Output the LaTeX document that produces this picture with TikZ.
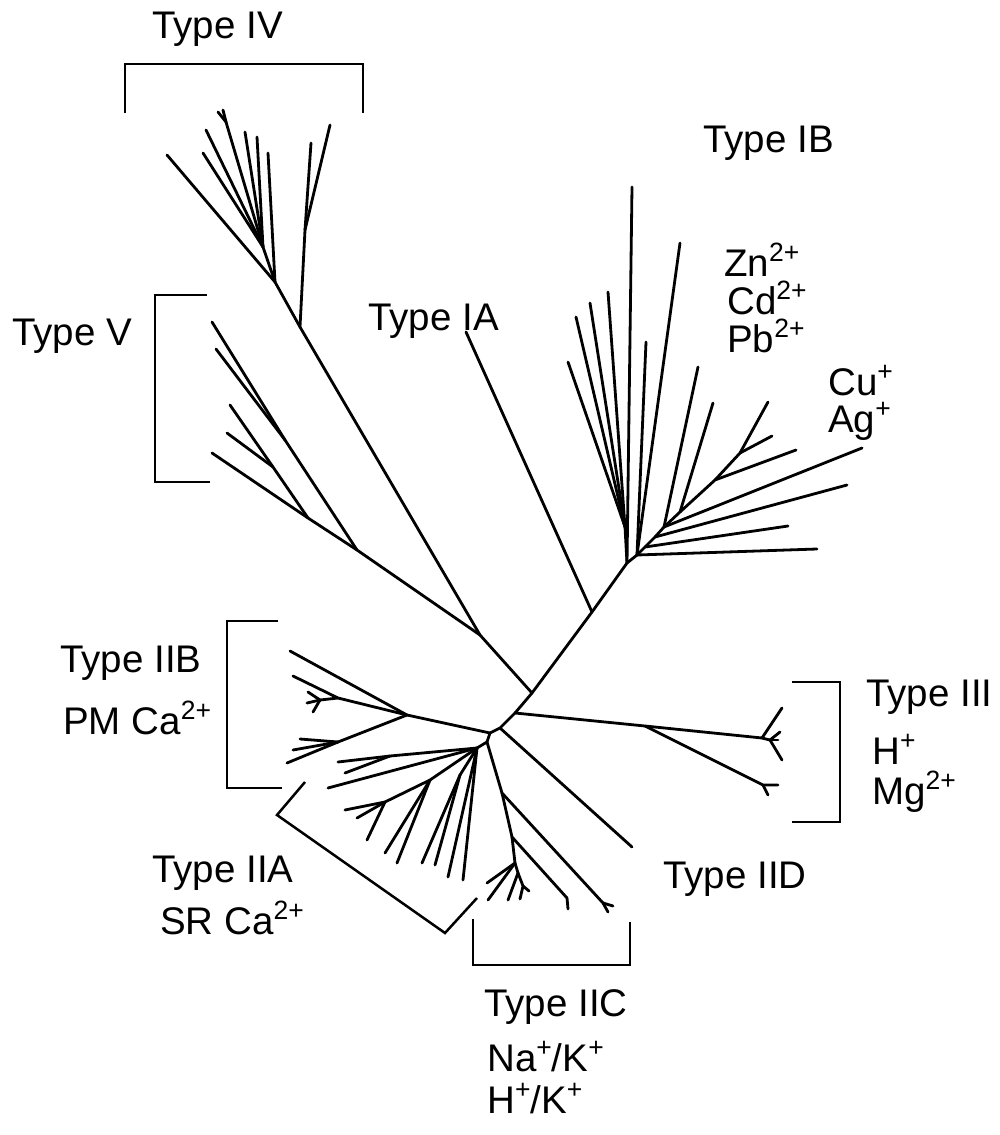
\documentclass[tikz,border=0pt]{standalone}
\usepackage{fontspec}
\setmainfont{Liberation Sans}
\newcommand\sups[1]{\raisebox{14.5pt}{\fontsize{26.5}{26.5}\selectfont #1}}
\begin{document}
\begin{tikzpicture}[x=1pt,y=-1pt,line cap=round,line join=round]
\tikzset{
  ln/.style={line width=2.8pt},
  br/.style={line width=2.5pt,line cap=butt,line join=miter},
  lab/.style={anchor=base west,inner sep=0pt,font=\fontsize{38.5}{44}\selectfont}
}
\useasboundingbox (0,0) rectangle (999,1135);
% ---------- central spine ----------
\coordinate (hIB) at (627,563);
\coordinate (jIA) at (592,612);
\coordinate (jV) at (532,693);
\coordinate (jIII) at (515,713);
\coordinate (jIID) at (500,728);
\coordinate (jIIB) at (490,733);
\coordinate (jAC) at (487,742);
\coordinate (jIVV) at (480,635);
\coordinate (tIA) at (466,332);
\draw[ln] (hIB) -- (jIA) -- (jV) -- (jIII) -- (jIID) -- (jIIB) -- (jAC);
\draw[ln] (jIA) -- (tIA);
\draw[ln] (jV) -- (jIVV);
% ---------- Type IV ----------
\coordinate (C) at (300,327);
\coordinate (A) at (275,282);
\coordinate (C2) at (305,230);
\coordinate (B) at (263,247);
\coordinate (Bf) at (226,122);
\coordinate (iv1) at (167,155);
\coordinate (iv2) at (268,153);
\coordinate (iv3) at (203,153);
\coordinate (iv4) at (206,130);
\coordinate (iv5) at (218,112);
\coordinate (iv6) at (223,110);
\coordinate (iv7) at (245,132);
\coordinate (iv8) at (257,137);
\coordinate (iv9) at (311,143);
\coordinate (iv10) at (330,125);
\draw[ln] (jIVV) -- (C) -- (A) -- (iv1);
\draw[ln] (A) -- (iv2);
\draw[ln] (A) -- (B) -- (iv3);
\draw[ln] (B) -- (iv4);
\draw[ln] (B) -- (Bf) -- (iv5);
\draw[ln] (Bf) -- (iv6);
\draw[ln] (B) -- (iv7);
\draw[ln] (B) -- (iv8);
\draw[ln] (C) -- (C2) -- (iv9);
\draw[ln] (C2) -- (iv10);
% ---------- Type V ----------
\coordinate (D) at (357,550);
\coordinate (E) at (285,440);
\coordinate (F) at (308,518);
\coordinate (G) at (273,467);
\coordinate (v1) at (212,322);
\coordinate (v2) at (216,349);
\coordinate (v3) at (212,453);
\coordinate (v4) at (230,405);
\coordinate (v5) at (227,433);
\draw[ln] (jIVV) -- (D) -- (E) -- (v1);
\draw[ln] (E) -- (v2);
\draw[ln] (D) -- (F) -- (v3);
\draw[ln] (F) -- (G) -- (v4);
\draw[ln] (G) -- (v5);
% ---------- Type IB ----------
\coordinate (J) at (625,527);
\coordinate (K) at (637,555);
\coordinate (P1) at (645,547);
\coordinate (P2) at (655,537);
\coordinate (P3) at (664,527);
\coordinate (P4) at (680,512);
\coordinate (L) at (715,480);
\coordinate (M) at (740,453);
\coordinate (b1) at (632,187);
\coordinate (b2) at (680,243);
\coordinate (b3) at (608,292);
\coordinate (b4) at (590,303);
\coordinate (b5) at (576,317);
\coordinate (b6) at (568,362);
\coordinate (b7) at (646,342);
\coordinate (b8) at (698,367);
\coordinate (b9) at (713,403);
\coordinate (b10) at (768,402);
\coordinate (b11) at (772,436);
\coordinate (b12) at (796,450);
\coordinate (b13) at (862,448);
\coordinate (b14) at (847,485);
\coordinate (b15) at (788,526);
\coordinate (b16) at (817,549);
\draw[ln] (hIB) -- (b1);
\draw[ln] (hIB) -- (J) -- (b3);
\draw[ln] (J) -- (b4);
\draw[ln] (J) -- (b5);
\draw[ln] (J) -- (b6);
\draw[ln] (hIB) -- (K) -- (b2);
\draw[ln] (K) -- (b7);
\draw[ln] (K) -- (b16);
\draw[ln] (K) -- (P1) -- (P2) -- (P3) -- (P4) -- (L) -- (b12);
\draw[ln] (P1) -- (b15);
\draw[ln] (P2) -- (b14);
\draw[ln] (P3) -- (b13);
\draw[ln] (P3) -- (b8);
\draw[ln] (P4) -- (b9);
\draw[ln] (L) -- (M) -- (b10);
\draw[ln] (M) -- (b11);
% ---------- Type III ----------
\coordinate (N3) at (645,726);
\coordinate (N) at (762,738);
\coordinate (N2) at (770,740);
\coordinate (N4) at (763,785);
\coordinate (t1) at (782,708);
\coordinate (t2) at (780,732);
\coordinate (t3) at (778,740);
\coordinate (t4) at (782,760);
\coordinate (t5) at (778,785);
\coordinate (t6) at (768,795);
\draw[ln] (jIII) -- (N3) -- (N) -- (t1);
\draw[ln] (N) -- (N2) -- (t2);
\draw[ln] (N2) -- (t3);
\draw[ln] (N2) -- (t4);
\draw[ln] (N3) -- (N4) -- (t5);
\draw[ln] (N4) -- (t6);
% ---------- Type IID ----------
\coordinate (tIID) at (632,847);
\draw[ln] (jIID) -- (tIID);
% ---------- Type IIC ----------
\coordinate (c1) at (502,793);
\coordinate (c1a) at (603,903);
\coordinate (c2) at (512,837);
\coordinate (c2a) at (567,898);
\coordinate (c3) at (515,863);
\coordinate (c4) at (518,873);
\coordinate (c5) at (523,886);
\coordinate (k1) at (608,912);
\coordinate (k2) at (613,906);
\coordinate (k3) at (568,909);
\coordinate (k4) at (487,883);
\coordinate (k5) at (488,900);
\coordinate (k6) at (508,900);
\coordinate (k7) at (520,899);
\coordinate (k8) at (529,891);
\draw[ln] (jAC) -- (c1) -- (c1a) -- (k1);
\draw[ln] (c1a) -- (k2);
\draw[ln] (c1) -- (c2) -- (c2a) -- (k3);
\draw[ln] (c2) -- (c3) -- (k4);
\draw[ln] (c3) -- (k5);
\draw[ln] (c3) -- (c4) -- (k6);
\draw[ln] (c4) -- (c5) -- (k7);
\draw[ln] (c5) -- (k8);
% ---------- Type IIB ----------
\coordinate (p1) at (407,715);
\coordinate (p2) at (338,698);
\coordinate (p3) at (320,700);
\coordinate (p4) at (338,742);
\coordinate (q1) at (290,651);
\coordinate (q2) at (293,676);
\coordinate (q3) at (308,692);
\coordinate (q4) at (307,703);
\coordinate (q5) at (313,712);
\coordinate (q6) at (287,763);
\coordinate (q7) at (300,739);
\coordinate (q8) at (293,750);
\draw[ln] (jIIB) -- (p1) -- (q1);
\draw[ln] (p1) -- (p2) -- (q2);
\draw[ln] (p2) -- (p3) -- (q3);
\draw[ln] (p3) -- (q4);
\draw[ln] (p3) -- (q5);
\draw[ln] (p1) -- (p4) -- (q6);
\draw[ln] (p4) -- (q7);
\draw[ln] (p4) -- (q8);
% ---------- Type IIA ----------
\coordinate (R) at (477,748);
\coordinate (S) at (390,756);
\coordinate (U) at (430,780);
\coordinate (T) at (385,802);
\coordinate (V) at (460,775);
\coordinate (a1) at (338,762);
\coordinate (a2) at (345,773);
\coordinate (a3) at (328,788);
\coordinate (a4) at (345,810);
\coordinate (a5) at (357,818);
\coordinate (a6) at (367,840);
\coordinate (a7) at (385,853);
\coordinate (a8) at (397,863);
\coordinate (a9) at (422,863);
\coordinate (a10) at (435,865);
\coordinate (a11) at (448,877);
\coordinate (a12) at (463,880);
\draw[ln] (jAC) -- (R) -- (S) -- (a1);
\draw[ln] (S) -- (a2);
\draw[ln] (R) -- (a3);
\draw[ln] (R) -- (U) -- (T) -- (a4);
\draw[ln] (T) -- (a5);
\draw[ln] (T) -- (a6);
\draw[ln] (U) -- (a7);
\draw[ln] (U) -- (a8);
\draw[ln] (R) -- (V) -- (a9);
\draw[ln] (V) -- (a10);
\draw[ln] (R) -- (a11);
\draw[ln] (R) -- (a12);
% ---------- brackets ----------
\draw[br] (125,113) -- (125,64) -- (363,64) -- (363,113);
\draw[br] (207,295) -- (155,295) -- (155,482) -- (210,482);
\draw[br] (278,621) -- (227,621) -- (227,788) -- (282,788);
\draw[br] (305,782) -- (277,815) -- (445,933) -- (477,898);
\draw[br] (473,919) -- (473,965) -- (630,965) -- (630,922);
\draw[br] (792,682) -- (840,682) -- (840,822) -- (792,822);
% ---------- labels ----------
\node[lab] (lIV) at (152,38) {Type IV};
\node[lab] (lIB) at (703,152) {Type IB};
\node[lab] (lZn) at (724,276) {Zn\sups{2+}};
\node[lab] (lCd) at (727,314) {Cd\sups{2+}};
\node[lab] (lPb) at (727,352) {Pb\sups{2+}};
\node[lab] (lCu) at (828,395) {Cu\sups{+}};
\node[lab] (lAg) at (828,432) {Ag\sups{+}};
\node[lab] (lV) at (12,345) {Type V};
\node[lab] (lIA) at (368,330) {Type IA};
\node[lab] (lIIB) at (60,672) {Type IIB};
\node[lab] (lPM) at (63,734) {PM Ca\sups{2+}};
\node[lab] (lIII) at (866,706) {Type III};
\node[lab] (lH) at (872,764) {H\sups{+}};
\node[lab] (lMg) at (872,804) {Mg\sups{2+}};
\node[lab] (lIIA) at (152,882) {Type IIA};
\node[lab] (lSR) at (160,934) {SR Ca\sups{2+}};
\node[lab] (lIID) at (663,888) {Type IID};
\node[lab] (lIIC) at (484,1016) {Type IIC};
\node[lab] (lNa) at (487,1071) {Na\sups{+}/K\sups{+}};
\node[lab] (lHK) at (487,1113) {H\sups{+}/K\sups{+}};
\end{tikzpicture}
\end{document}
